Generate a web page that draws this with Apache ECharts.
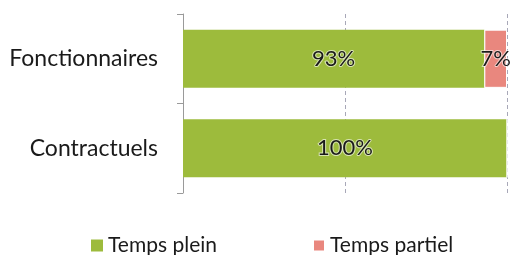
<!DOCTYPE html>
<html>
<head>
<meta charset="utf-8">
<script src="https://cdn.jsdelivr.net/npm/echarts@6/dist/echarts.min.js"></script>
<style>
  html, body { margin: 0; padding: 0; background: #fff; }
  #chart { width: 522px; height: 255px; }
</style>
</head>
<body>
<div id="chart"></div>
<script>
var categories = ["Fonctionnaires", "Contractuels"];
var tempsPlein = [93, 100];
var tempsPartiel = [7, 0];

var chart = echarts.init(document.getElementById("chart"));

var barLabel = {
  show: true,
  position: "inside",
  color: "#1a1a1a",
  fontSize: 22,
  fontFamily: "Lato",
  textBorderColor: "rgba(255,255,255,0.6)",
  textBorderWidth: 2,
  formatter: function (p) {
    return p.value ? p.value + "%" : "";
  }
};

chart.setOption({
  animation: false,
  textStyle: { fontFamily: "Lato" },
  legend: {
    top: 230,
    left: 86,
    icon: "rect",
    itemWidth: 12,
    itemHeight: 12,
    itemGap: 95,
    textStyle: { fontSize: 21, color: "#1a1a1a", fontFamily: "Lato" },
    data: ["Temps plein", "Temps partiel"]
  },
  // zone du graphe
  grid: { left: 183, right: 15, top: 14, bottom: 62 },
  xAxis: {
    type: "value",
    min: 0,
    max: 100,
    interval: 50,
    axisLabel: { show: false },
    axisLine: { show: false },
    axisTick: { show: false },
    splitLine: {
      show: true,
      lineStyle: { color: "#a8a8b8", type: [4, 3], width: 1 }
    }
  },
  yAxis: {
    type: "category",
    inverse: true,
    data: categories,
    axisLine: { show: true, lineStyle: { color: "#9a9a9a" } },
    axisTick: { show: true, length: 6, inside: false, lineStyle: { color: "#9a9a9a" } },
    axisLabel: { fontSize: 23, color: "#1a1a1a", margin: 25, fontFamily: "Lato" }
  },
  series: [
    {
      name: "Temps plein",
      type: "bar",
      stack: "total",
      barCategoryGap: "35%",
      data: tempsPlein,
      itemStyle: { color: "#9dbb3c" },
      label: barLabel
    },
    {
      name: "Temps partiel",
      type: "bar",
      stack: "total",
      data: tempsPartiel,
      itemStyle: { color: "#e9877e", borderColor: "#fff", borderWidth: 1 },
      label: barLabel
    }
  ]
});
</script>
</body>
</html>
